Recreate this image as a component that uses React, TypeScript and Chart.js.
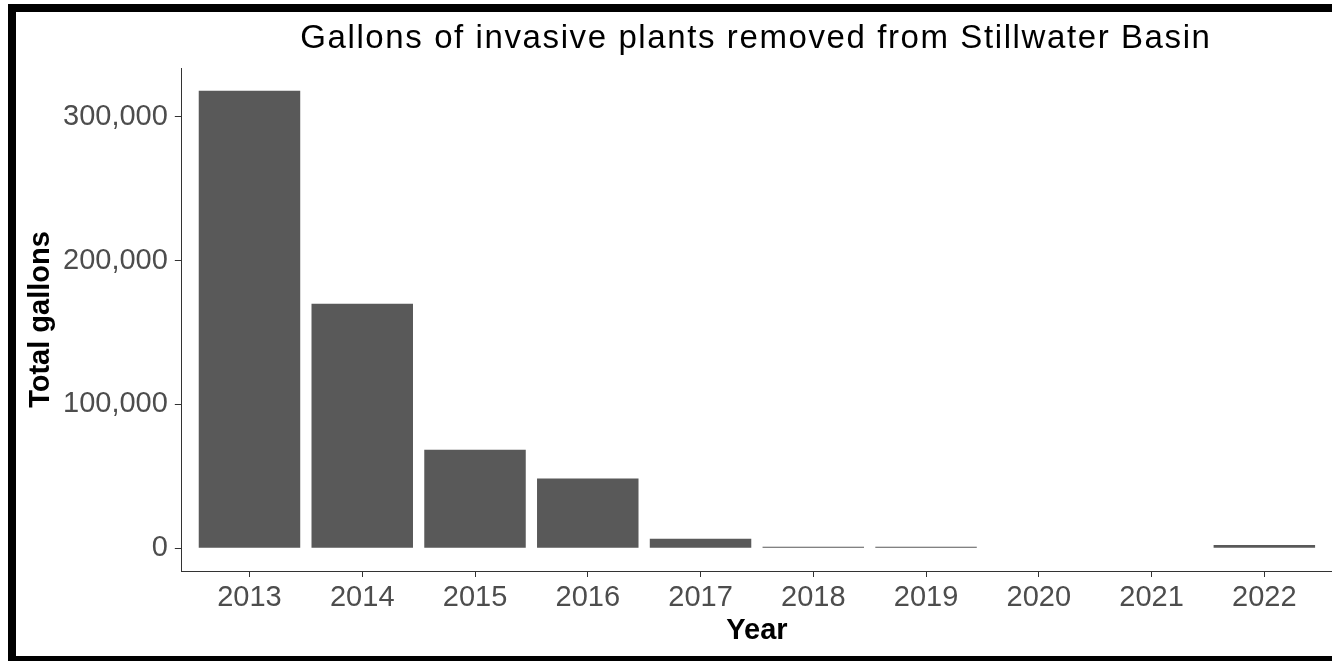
import React, { useEffect, useRef } from "react";
import { Chart, registerables } from "chart.js";

Chart.register(...registerables);

const TITLE = "Gallons of invasive plants removed from Stillwater Basin";
const X_TITLE = "Year";
const Y_TITLE = "Total gallons";
const years = ["2013", "2014", "2015", "2016", "2017", "2018", "2019", "2020", "2021", "2022"];
const gallons = [318000, 170000, 68500, 48500, 6500, 1000, 1000, 0, 0, 2200];
const yTicks = [0, 100000, 200000, 300000];

const FONT = '"Liberation Sans", Arial, sans-serif';

export default function App() {
  const ref = useRef<HTMLCanvasElement | null>(null);

  useEffect(() => {
    if (!ref.current) return;
    const maxV = Math.max(...gallons);
    const titlePlugin = {
      id: "centeredTitle",
      afterDraw(chart: any) {
        const { ctx, chartArea } = chart;
        ctx.save();
        ctx.font = `33px ${FONT}`;
        try { (ctx as any).letterSpacing = "1.6px"; } catch (e) {}
        ctx.fillStyle = "#000000";
        ctx.textAlign = "center";
        ctx.textBaseline = "alphabetic";
        ctx.fillText(TITLE, (chartArea.left + chartArea.right) / 2 - 1, 48);
        ctx.restore();
      },
    };
    const chart = new Chart(ref.current, {
      type: "bar",
      data: {
        datasets: [
          {
            data: gallons.map((v, i) => ({ x: i, y: v })),
            backgroundColor: "#595959",
            borderWidth: 0,
            categoryPercentage: 1,
            barPercentage: 0.9,
          },
        ],
      },
      options: {
        animation: false,
        responsive: true,
        maintainAspectRatio: false,
        layout: { padding: { top: 68, left: 0, right: 0, bottom: 16 } },
        plugins: {
          legend: { display: false },
          tooltip: { enabled: false },
          title: { display: false },
        },
        scales: {
          x: {
            type: "linear",
            offset: false,
            min: -0.6,
            max: years.length - 1 + 0.6,
            bounds: "data",
            afterBuildTicks: (axis: any) => {
              axis.ticks = years.map((_, i) => ({ value: i }));
            },
            grid: { display: true, offset: false, drawOnChartArea: false, drawTicks: true, tickLength: 6, color: "#333333", lineWidth: 1 },
            border: { display: true, color: "#333333", width: 1 },
            ticks: {
              autoSkip: false,
              maxRotation: 0,
              padding: 6,
              color: "#4D4D4D",
              font: { family: FONT, size: 29, lineHeight: 1 },
              callback: (v: any) => years[v as number] ?? "",
            },
            title: {
              display: true,
              text: X_TITLE,
              color: "#000000",
              font: { family: FONT, size: 29, weight: "bold", lineHeight: 1 },
              padding: { top: -2, bottom: 0 },
            },
          },
          y: {
            type: "linear",
            min: -maxV * 0.05,
            max: maxV * 1.05,
            afterBuildTicks: (axis: any) => {
              axis.ticks = yTicks.map((v) => ({ value: v }));
            },
            grid: { display: true, drawOnChartArea: false, drawTicks: true, tickLength: 7, color: "#333333", lineWidth: 1 },
            border: { display: true, color: "#333333", width: 1 },
            ticks: {
              padding: 7,
              color: "#4D4D4D",
              font: { family: FONT, size: 29, lineHeight: 1 },
              callback: (v: any) => Number(v).toLocaleString("en-US"),
            },
            title: {
              display: true,
              text: Y_TITLE,
              color: "#000000",
              font: { family: FONT, size: 29, weight: "bold", lineHeight: 1 },
              padding: { top: 26, bottom: 1 },
            },
          },
        },
      },
      plugins: [titlePlugin],
    });
    return () => chart.destroy();
  }, []);

  return (
    <div style={{ position: "absolute", left: 0, top: 0, width: 1332, height: 661, background: "#ffffff" }}>
      <canvas ref={ref} style={{ display: "block", width: 1332, height: 661 }} />
      <div
        style={{
          position: "absolute",
          left: 8,
          top: 4,
          width: 1324,
          height: 657,
          boxSizing: "border-box",
          borderTop: "8px solid #000",
          borderLeft: "8px solid #000",
          borderBottom: "5px solid #000",
          borderRight: "none",
          pointerEvents: "none",
        }}
      />
    </div>
  );
}
